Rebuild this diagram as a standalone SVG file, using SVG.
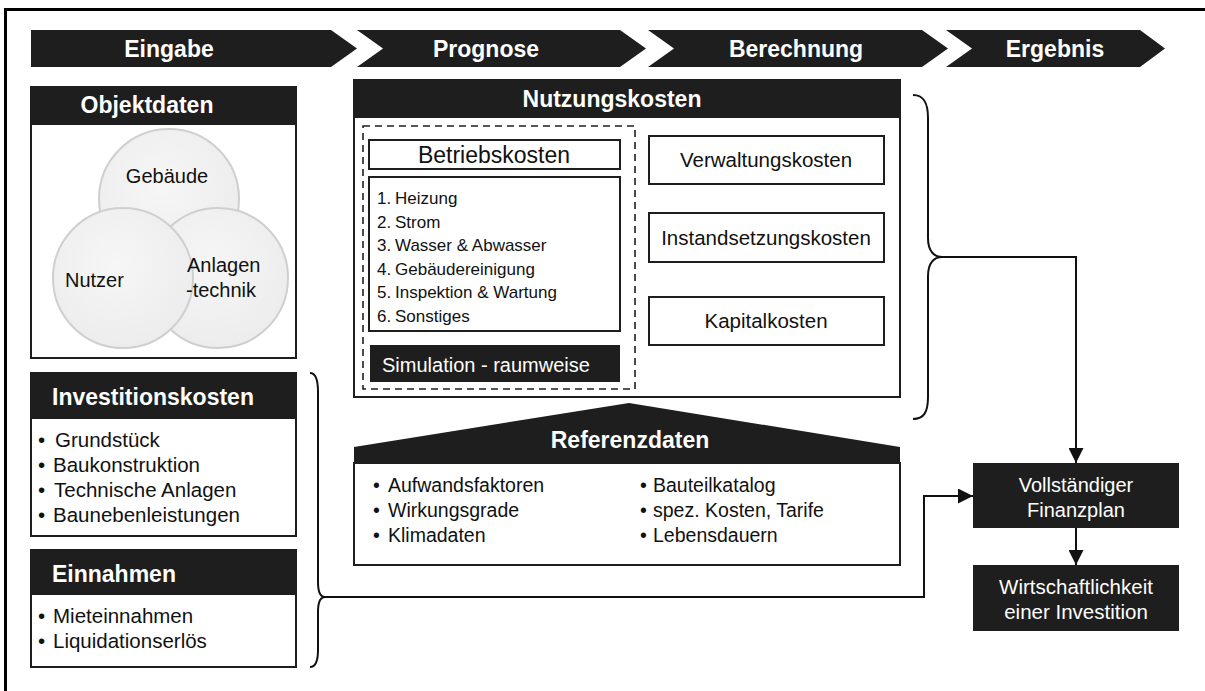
<svg xmlns="http://www.w3.org/2000/svg" width="1205" height="691" viewBox="0 0 1205 691">
<style>
text{font-family:"Liberation Sans",Arial,sans-serif;fill:#111}
.dark{fill:#1e1e1e}
.box{fill:#fff;stroke:#1e1e1e;stroke-width:2}
.hd{font-weight:bold;font-size:23px;fill:#fff}
.w{fill:#fff}
.t20{font-size:20px}
.t205{font-size:20.5px}
.t17{font-size:17px}
.t195{font-size:19.5px}
.mid{text-anchor:middle}
.circ{fill:url(#cg);stroke:#cfcfcf;stroke-width:2}
.ln{fill:none;stroke:#111;stroke-width:2}
</style>
<defs>
<radialGradient id="cg" cx="0.45" cy="0.4" r="0.7">
<stop offset="0" stop-color="#f6f6f6"/>
<stop offset="1" stop-color="#ebebeb"/>
</radialGradient>
<marker id="ah" markerUnits="userSpaceOnUse" markerWidth="15" markerHeight="15" refX="15" refY="7.5" orient="auto">
<path d="M0,0 L15,7.5 L0,15 Z" fill="#111"/>
</marker>
</defs>
<rect x="0" y="0" width="1205" height="691" fill="#fff"/>
<path d="M5.5,691 V9.5 H1205" fill="none" stroke="#000" stroke-width="3"/>

<g id="phases">
<g id="phase-eingabe"><path class="dark" d="M31,30 H331 L357,48.5 L331,67 H31 Z"/><text class="hd mid" x="169" y="57">Eingabe</text></g>
<g id="phase-prognose"><path class="dark" d="M357,30 H620 L646,48.5 L620,67 H357 L383,48.5 Z"/><text class="hd mid" x="486" y="57">Prognose</text></g>
<g id="phase-berechnung"><path class="dark" d="M648,30 H922 L948,48.5 L922,67 H648 L674,48.5 Z"/><text class="hd mid" x="796" y="57">Berechnung</text></g>
<g id="phase-ergebnis"><path class="dark" d="M946,30 H1140 L1165,48.5 L1140,67 H946 L972,48.5 Z"/><text class="hd mid" x="1055" y="57">Ergebnis</text></g>
</g>

<g id="objektdaten">
<rect class="box" x="31" y="87" width="265" height="271"/>
<rect class="dark" x="31" y="87" width="265" height="38"/>
<text class="hd mid" x="147" y="113">Objektdaten</text>
<circle class="circ" cx="169" cy="199" r="70"/>
<circle class="circ" cx="218" cy="278" r="70"/>
<circle class="circ" cx="123" cy="278" r="70"/>
<text class="t20 mid" x="167" y="183">Gebäude</text>
<text class="t20" x="65" y="287">Nutzer</text>
<text class="t20" x="187" y="272">Anlagen</text>
<text class="t20" x="186" y="297">-technik</text>
</g>

<g id="investitionskosten">
<rect class="box" x="31" y="373" width="265" height="163"/>
<rect class="dark" x="31" y="373" width="265" height="46"/>
<text class="hd" x="52" y="405">Investitionskosten</text>
<text class="t205"><tspan x="38" y="447">•</tspan><tspan x="55" y="447">Grundstück</tspan><tspan x="38" y="472">•</tspan><tspan x="53" y="472">Baukonstruktion</tspan><tspan x="38" y="497">•</tspan><tspan x="54" y="497">Technische Anlagen</tspan><tspan x="38" y="522">•</tspan><tspan x="53" y="522">Baunebenleistungen</tspan></text>
</g>

<g id="einnahmen">
<rect class="box" x="31" y="550" width="265" height="117"/>
<rect class="dark" x="31" y="550" width="265" height="45"/>
<text class="hd" x="52" y="582">Einnahmen</text>
<text class="t205"><tspan x="38" y="623">•</tspan><tspan x="53" y="623">Mieteinnahmen</tspan><tspan x="38" y="648">•</tspan><tspan x="53" y="648">Liquidationserlös</tspan></text>
</g>

<g id="nutzungskosten">
<rect class="box" x="354" y="80" width="546" height="317"/>
<rect class="dark" x="354" y="80" width="546" height="38"/>
<text class="hd mid" x="612" y="107">Nutzungskosten</text>
<rect x="363" y="126" width="272" height="263" fill="none" stroke="#1e1e1e" stroke-width="1.6" stroke-dasharray="7,5"/>
</g>

<g id="betriebskosten">
<rect class="box" x="369" y="140" width="251" height="29"/>
<text class="mid" x="494" y="163" style="font-size:23px">Betriebskosten</text>
</g>

<g id="betriebskosten-liste">
<rect class="box" x="369" y="177" width="251" height="154"/>
<text class="t17"><tspan x="377" y="204">1.</tspan><tspan x="395" y="204">Heizung</tspan><tspan x="377" y="228">2.</tspan><tspan x="395" y="228">Strom</tspan><tspan x="377" y="251">3.</tspan><tspan x="395" y="251">Wasser &amp; Abwasser</tspan><tspan x="377" y="275">4.</tspan><tspan x="395" y="275">Gebäudereinigung</tspan><tspan x="377" y="298">5.</tspan><tspan x="395" y="298">Inspektion &amp; Wartung</tspan><tspan x="377" y="322">6.</tspan><tspan x="395" y="322">Sonstiges</tspan></text>
</g>

<g id="simulation">
<rect class="dark" x="370" y="345" width="250" height="37"/>
<text class="t20 w" x="382" y="372">Simulation - raumweise</text>
</g>

<g id="verwaltungskosten">
<rect class="box" x="649" y="136" width="235" height="48"/>
<text class="t205 mid" x="766" y="167">Verwaltungskosten</text>
</g>
<g id="instandsetzungskosten">
<rect class="box" x="649" y="213" width="235" height="49"/>
<text class="t205 mid" x="766" y="245">Instandsetzungskosten</text>
</g>
<g id="kapitalkosten">
<rect class="box" x="649" y="297" width="235" height="48"/>
<text class="t205 mid" x="766" y="328">Kapitalkosten</text>
</g>

<g id="referenzdaten">
<rect class="box" x="354" y="463" width="546" height="102"/>
<path class="dark" d="M354,463 V447 L629,403 L900,447 V463 Z"/>
<text class="hd mid" x="630" y="448">Referenzdaten</text>
<text class="t195"><tspan x="373" y="492">•</tspan><tspan x="388" y="492">Aufwandsfaktoren</tspan><tspan x="373" y="517">•</tspan><tspan x="388" y="517">Wirkungsgrade</tspan><tspan x="373" y="542">•</tspan><tspan x="388" y="542">Klimadaten</tspan><tspan x="640" y="492">•</tspan><tspan x="653" y="492">Bauteilkatalog</tspan><tspan x="640" y="517">•</tspan><tspan x="653" y="517">spez. Kosten, Tarife</tspan><tspan x="640" y="542">•</tspan><tspan x="653" y="542">Lebensdauern</tspan></text>
</g>

<g id="finanzplan">
<rect class="dark" x="973" y="463" width="206" height="65"/>
<text class="t20 w mid" x="1076" y="492">Vollständiger</text>
<text class="t20 w mid" x="1076" y="517">Finanzplan</text>
</g>

<g id="wirtschaftlichkeit">
<rect class="dark" x="973" y="565" width="206" height="66"/>
<text class="t205 w mid" x="1076" y="594">Wirtschaftlichkeit</text>
<text class="t205 w mid" x="1076" y="619">einer Investition</text>
</g>

<g id="connectors">
<path class="ln" d="M913,95 C924,95 928,103 928,118 L928,238 C928,251 934,257 942,257 C934,257 928,263 928,276 L928,397 C928,412 924,419 913,419"/>
<path class="ln" d="M942,257 H1076 V463" marker-end="url(#ah)"/>
<path class="ln" d="M310,373 C315,373 318,380 318,392 L318,582 C318,592 321,597 325,597 C321,597 318,602 318,612 L318,650 C318,661 315,667 310,667"/>
<path class="ln" d="M325,597 H924 V496 H973" marker-end="url(#ah)"/>
<path class="ln" d="M1076,528 V565" marker-end="url(#ah)"/>
</g>
</svg>
